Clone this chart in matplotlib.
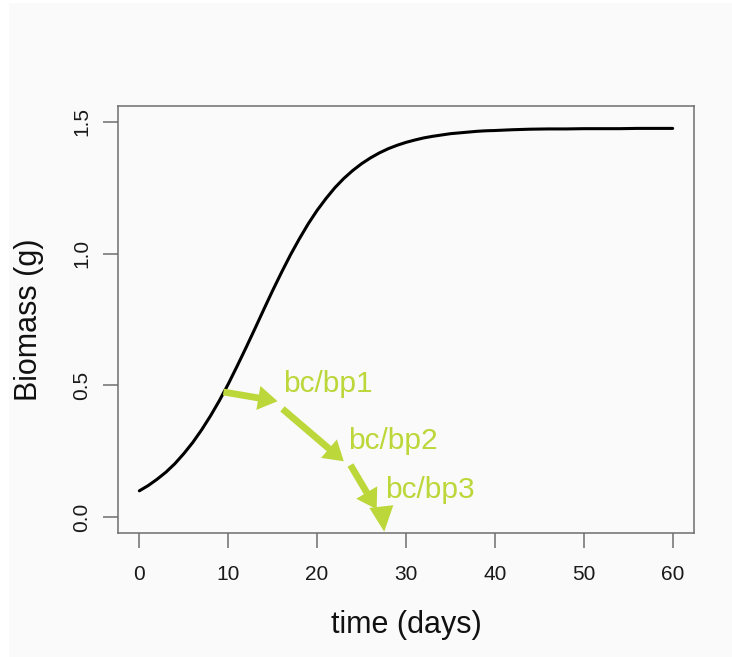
import matplotlib
matplotlib.use("Agg")
import matplotlib.pyplot as plt
from matplotlib.patches import Rectangle

# ---- data ----
time_days = [0, 1, 2, 3, 4, 5, 6, 7, 8, 9, 10, 11, 12, 13, 14, 15, 16, 17, 18,
             19, 20, 21, 22, 23, 24, 25, 26, 27, 28, 29, 30, 31, 32, 33, 34,
             35, 36, 37, 38, 39, 40, 42, 44, 46, 48, 50, 52, 54, 56, 58, 60]
biomass_g = [0.100, 0.120, 0.144, 0.171, 0.203, 0.241, 0.283, 0.331, 0.384,
             0.442, 0.505, 0.573, 0.643, 0.715, 0.788, 0.860, 0.929, 0.995,
             1.056, 1.113, 1.164, 1.209, 1.250, 1.285, 1.315, 1.341, 1.363,
             1.382, 1.398, 1.411, 1.422, 1.431, 1.439, 1.445, 1.450, 1.455,
             1.458, 1.461, 1.464, 1.466, 1.467, 1.470, 1.472, 1.473, 1.473,
             1.474, 1.474, 1.474, 1.475, 1.475, 1.475]
x_ticks = [0, 10, 20, 30, 40, 50, 60]
y_ticks = [0.0, 0.5, 1.0, 1.5]
y_tick_labels = ["0.0", "0.5", "1.0", "1.5"]

# annotations: (label, arrow start (t, y), arrow end (t, y), label position (t, y))
ann_labels = ["bc/bp1", "bc/bp2", "bc/bp3"]
ann_start = [(9.46, 0.475), (16.1, 0.411), (23.75, 0.198)]
ann_end = [(15.55, 0.440), (23.0, 0.212), (26.7, 0.030)]
ann_text_pos = [(16.2, 0.506), (23.5, 0.289), (27.7, 0.103)]
last_head_start = (27.3, 0.019)
last_head_end = (27.55, -0.055)

GREEN = "#bcd73a"
FRAME = "#6e6e6e"
BG = "#fafafa"

plt.rcParams["font.family"] = ["Liberation Sans", "DejaVu Sans"]

fig = plt.figure(figsize=(7.32, 6.57), dpi=100, facecolor=BG)
# white strips at the left and top edges of the picture
fig.patches.append(Rectangle((0, 0), 9 / 732, 1, transform=fig.transFigure,
                             facecolor="white", edgecolor="none", zorder=-1))
fig.patches.append(Rectangle((0, 1 - 3 / 657), 1, 3 / 657, transform=fig.transFigure,
                             facecolor="white", edgecolor="none", zorder=-1))

ax = fig.add_axes([118 / 732, 1 - 533 / 657, (694 - 118) / 732, (533 - 106) / 657])
ax.set_facecolor(BG)

ax.plot(time_days, biomass_g, color="black", lw=2.2, solid_capstyle="round",
        solid_joinstyle="round")

ax.set_xlim(-2.4, 62.4)
ax.set_ylim(-0.06, 1.56)
ax.set_xticks(x_ticks)
ax.set_yticks(y_ticks)
ax.set_yticklabels(y_tick_labels, rotation=90, va="center")

for s in ax.spines.values():
    s.set_color(FRAME)
    s.set_linewidth(1.1)
ax.tick_params(axis="both", direction="out", length=10.5, width=1.1,
               color=FRAME, labelsize=15, labelcolor="#1a1a1a")
ax.tick_params(axis="x", pad=12.5)
ax.tick_params(axis="y", pad=9)

ax.set_xlabel("time (days)", fontsize=22, color="#111111", labelpad=19)
ax.set_ylabel("Biomass (g)", fontsize=22, color="#111111", labelpad=20)

arrow_kw = dict(arrowstyle="simple,head_length=1.0,head_width=1.25,tail_width=0.35",
                color=GREEN, lw=0, mutation_scale=14, shrinkA=0, shrinkB=0)
for lab, st, en, tp in zip(ann_labels, ann_start, ann_end, ann_text_pos):
    ax.annotate("", xy=en, xytext=st, arrowprops=arrow_kw, annotation_clip=False)
    ax.text(tp[0], tp[1], lab, color=GREEN, fontsize=21.5, ha="left", va="center")

ax.annotate("", xy=last_head_end, xytext=last_head_start, annotation_clip=False,
            arrowprops=dict(arrowstyle="-|>,head_length=1.3,head_width=0.62",
                            color=GREEN, lw=0, mutation_scale=14,
                            shrinkA=0, shrinkB=0))

fig.savefig("out.png", dpi=100, facecolor=BG)
